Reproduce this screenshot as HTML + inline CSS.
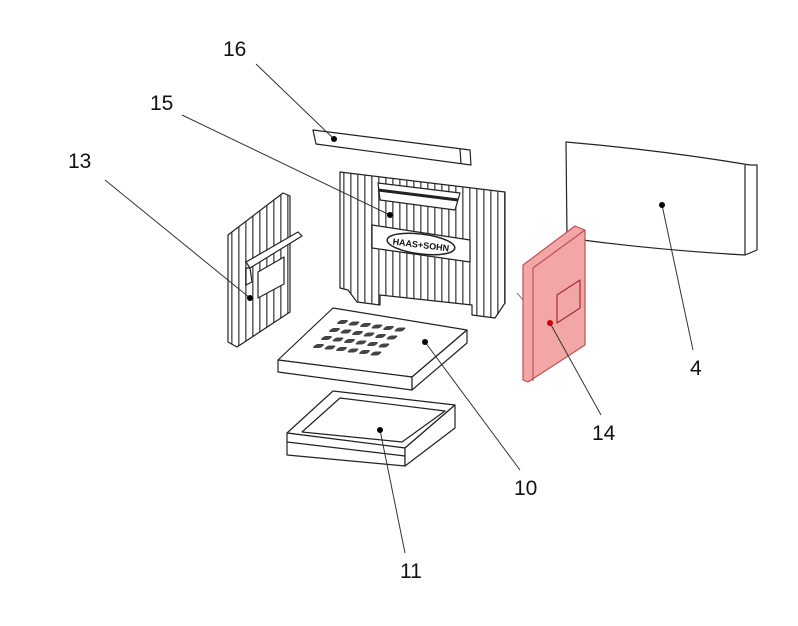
<!DOCTYPE html>
<html><head><meta charset="utf-8"><style>
html,body{margin:0;padding:0;background:#fff;}
svg{display:block;}
text{font-family:"Liberation Sans",Arial,sans-serif;font-size:21px;fill:#111;}
</style></head><body>
<svg width="798" height="626" viewBox="0 0 798 626" xmlns="http://www.w3.org/2000/svg">
<defs>
<pattern id="ribs" width="7" height="10" patternUnits="userSpaceOnUse">
<rect width="7" height="10" fill="#fff"/><rect x="0" width="1.6" height="10" fill="#666"/>
</pattern>
</defs>
<g fill="none" stroke="#222" stroke-width="1.2" stroke-linejoin="round">
<!-- 16 bar -->
<polygon points="313,130 470,150 471,165 316,144" fill="#fff"/>
<line x1="460" y1="149" x2="461" y2="164"/>
<!-- 15 back panel -->
<polygon points="340,172 505,192 505,303 495,318 472,315 472,305 380,295 380,305 357,302 348,290 340,288" fill="url(#ribs)"/>
<polygon points="378,183 460,193 455,210 380,200" fill="#fff"/>
<line x1="378" y1="190" x2="458" y2="200" stroke-width="3"/>
<polygon points="372,225 470,240 470,262 372,248" fill="#fff"/>
<ellipse cx="421" cy="244" rx="34" ry="10" transform="rotate(7 421 244)" fill="#fff" stroke-width="1.5"/>
<!-- 13 side panel -->
<polygon points="228,235 283,193 290,196 290,312 237,347 228,342" fill="url(#ribs)"/>
<polygon points="246,262 298,232 302,236 250,268" fill="#fff"/>
<polygon points="246,268 250,268 252,282 246,285" fill="#fff"/>
<polygon points="258,272 284,257 284,284 258,298" fill="#fff"/>
<!-- 10 grate slab -->
<polygon points="278,360 333,308 467,330 412,377" fill="#fff"/>
<polygon points="278,360 412,377 412,390 278,372" fill="#fff"/>
<polygon points="412,377 467,330 467,343 412,390" fill="#fff"/>
<!-- 11 tray -->
<polygon points="287,433 333,391 455,405 405,448" fill="#fff"/>
<polygon points="302,432 340,398 445,411 402,442" fill="#fff"/>
<polygon points="287,433 405,448 405,466 287,455" fill="#fff"/>
<line x1="287" y1="442" x2="405" y2="456"/>
<polygon points="405,448 455,405 455,428 405,466" fill="#fff"/>
<!-- 4 -->
<path d="M566,142 Q660,150 750,165 L757,165 L757,250 L745,255 Q655,250 567,238 Z" fill="#fff"/>
<line x1="745" y1="165" x2="745" y2="255"/>
<!-- 14 red panel -->
<polygon points="523,265 575,226 585,230 585,345 528,382 523,380" fill="#f3a6a6" stroke="#c05050"/>
<line x1="533" y1="268" x2="585" y2="230" stroke="#c05050"/>
<line x1="533" y1="268" x2="533" y2="381" stroke="#c05050"/>
<polygon points="557,295 580,280 580,308 557,323" fill="none" stroke="#a03030"/>
<line x1="517" y1="293" x2="523" y2="300" stroke="#888"/>
</g>
<!-- grate slots -->
<g fill="#444">
<g transform="translate(340,320) skewX(-45)">
<rect x="0" y="0" width="9" height="4" rx="2"/><rect x="13" y="1.5" width="9" height="4" rx="2"/><rect x="26" y="3" width="9" height="4" rx="2"/><rect x="39" y="4.5" width="9" height="4" rx="2"/><rect x="52" y="6" width="9" height="4" rx="2"/><rect x="65" y="7.5" width="9" height="4" rx="2"/>
<rect x="0" y="8" width="9" height="4" rx="2"/><rect x="13" y="9.5" width="9" height="4" rx="2"/><rect x="26" y="11" width="9" height="4" rx="2"/><rect x="39" y="12.5" width="9" height="4" rx="2"/><rect x="52" y="14" width="9" height="4" rx="2"/><rect x="65" y="15.5" width="9" height="4" rx="2"/>
<rect x="0" y="16" width="9" height="4" rx="2"/><rect x="13" y="17.5" width="9" height="4" rx="2"/><rect x="26" y="19" width="9" height="4" rx="2"/><rect x="39" y="20.5" width="9" height="4" rx="2"/><rect x="52" y="22" width="9" height="4" rx="2"/><rect x="65" y="23.5" width="9" height="4" rx="2"/>
<rect x="0" y="24" width="9" height="4" rx="2"/><rect x="13" y="25.5" width="9" height="4" rx="2"/><rect x="26" y="27" width="9" height="4" rx="2"/><rect x="39" y="28.5" width="9" height="4" rx="2"/><rect x="52" y="30" width="9" height="4" rx="2"/><rect x="65" y="31.5" width="9" height="4" rx="2"/>
</g>
</g>
<text x="421" y="248" text-anchor="middle" transform="rotate(7 421 244)" style="font-size:9px;font-weight:bold">HAAS+SOHN</text>
<!-- leader lines -->
<g stroke="#333" stroke-width="1">
<line x1="256" y1="64" x2="334" y2="139"/>
<line x1="182" y1="115" x2="390" y2="215"/>
<line x1="105" y1="180" x2="250" y2="298"/>
<line x1="662" y1="205" x2="693" y2="350"/>
<line x1="550" y1="323" x2="601" y2="415"/>
<line x1="425" y1="342" x2="520" y2="470"/>
<line x1="380" y1="430" x2="405" y2="553"/>
</g>
<g fill="#000">
<circle cx="334" cy="139" r="3"/><circle cx="390" cy="215" r="3"/><circle cx="250" cy="298" r="3"/>
<circle cx="662" cy="205" r="3"/><circle cx="425" cy="342" r="3"/><circle cx="380" cy="430" r="3"/>
<circle cx="550" cy="323" r="3" fill="#c00"/>
</g>
<text x="223" y="56">16</text>
<text x="150" y="110">15</text>
<text x="68" y="168">13</text>
<text x="690" y="375">4</text>
<text x="592" y="440">14</text>
<text x="514" y="495">10</text>
<text x="400" y="578">11</text>
</svg>
</body></html>
